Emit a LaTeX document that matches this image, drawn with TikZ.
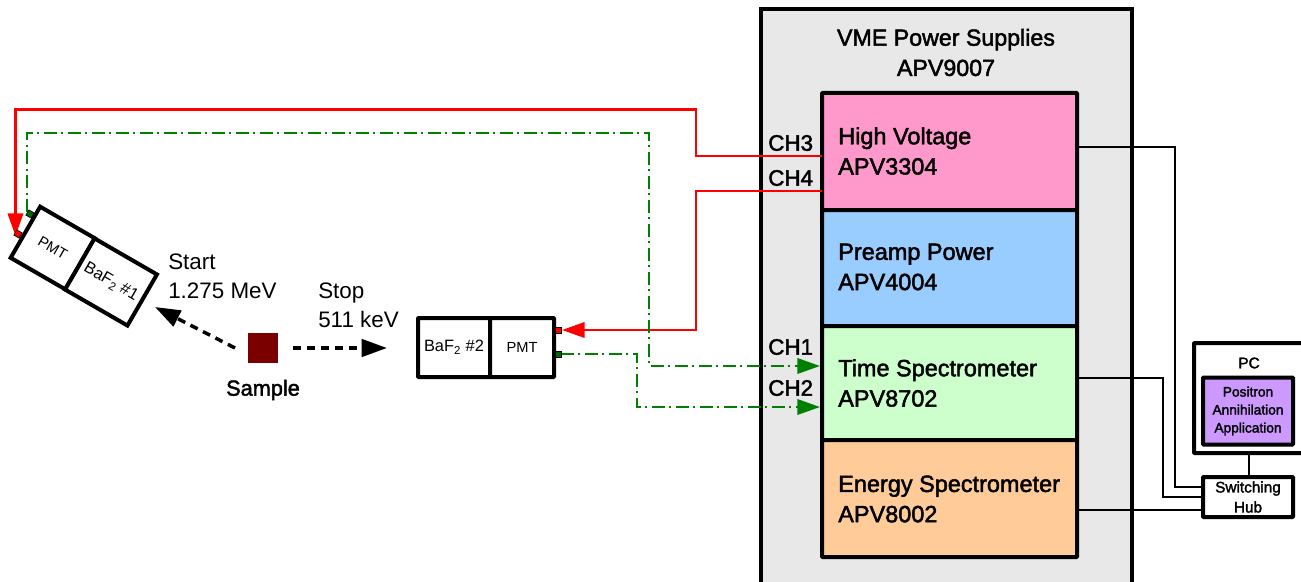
\documentclass[tikz,border=0pt]{standalone}
\usepackage{fontspec}
\setmainfont{Liberation Sans}
\newfontfamily\medfont[FakeBold=2]{Liberation Sans}
\usetikzlibrary{arrows.meta}
\definecolor{panelgrey}{HTML}{E8E8E8}
\definecolor{hvpink}{HTML}{FF99CC}
\definecolor{ppblue}{HTML}{99CCFF}
\definecolor{tsgreen}{HTML}{CCFFCC}
\definecolor{esorange}{HTML}{FFCC99}
\definecolor{apppurple}{HTML}{CC99FF}
\definecolor{samplered}{HTML}{7A0000}
\definecolor{siggreen}{HTML}{008000}
\definecolor{portgreen}{HTML}{006600}
\tikzset{
  x=0.75pt,y=-0.75pt,
  panel/.style={draw=black,line width=3.4pt,fill=panelgrey,minimum width=371*0.75pt,minimum height=580*0.75pt,inner sep=0pt,outer sep=0pt},
  module/.style={draw=black,line width=3pt,minimum width=255*0.75pt,inner sep=0pt,outer sep=0pt,rounded corners=0.5pt},
  modtext/.style={font=\fontsize{17.6pt}{22.7pt}\selectfont\medfont,align=left,anchor=west,inner sep=0pt},
  det/.style={draw=black,line width=3pt,fill=white,minimum height=59*0.75pt,inner sep=0pt,outer sep=0pt},
  pmtfont/.style={font=\fontsize{11pt}{12pt}\selectfont},
  baffont/.style={font=\fontsize{12.3pt}{14pt}\selectfont},
  port/.style={draw=black,line width=0.5pt,minimum width=6*0.75pt,minimum height=6*0.75pt,inner sep=0pt,outer sep=0pt},
  plain/.style={font=\fontsize{16.8pt}{21.75pt}\selectfont,inner sep=0pt},
  chlabel/.style={font=\fontsize{16.8pt}{18pt}\selectfont\medfont,inner sep=0pt,anchor=west},
  wire/.style={draw=black,line width=1.7pt},
  hvline/.style={draw=red,line width=2pt},
  sigline/.style={draw=siggreen,line width=1.8pt,dash pattern=on 9.5pt off 3.5pt on 1.5pt off 3.5pt},
  redhead/.style={-{Triangle[length=17pt,width=11.5pt,fill=red]}},
  greenhead/.style={-{Triangle[length=17pt,width=11.5pt,fill=siggreen]}},
  gamma/.style={draw=black,line width=2.6pt,dash pattern=on 6pt off 4.5pt,-{Triangle[length=19pt,width=13pt,fill=black]}},
}
\begin{document}
\begin{tikzpicture}
\path[use as bounding box,clip] (0,0) rectangle (1301,581);
% panel and stack
\node[panel] (vme) at (946.5,299) {};
\node[module,fill=hvpink,minimum height=117*0.75pt] (hv) at (949.5,151.5) {};
\node[module,fill=ppblue,minimum height=116*0.75pt] (pp) at (949.5,268) {};
\node[module,fill=tsgreen,minimum height=114*0.75pt] (ts) at (949.5,383) {};
\node[module,fill=esorange,minimum height=117*0.75pt] (es) at (949.5,498.5) {};
\node[font=\fontsize{17.4pt}{22.7pt}\selectfont\medfont,align=center,inner sep=0pt] (title) at (946,52.5) {VME Power Supplies\\APV9007};
\node[modtext] (hvt) at (838,151) {High Voltage\\APV3304};
\node[modtext] (ppt) at (838,267) {Preamp Power\\APV4004};
\node[modtext] (tst) at (838,383) {Time Spectrometer\\APV8702};
\node[modtext] (est) at (838,499) {Energy Spectrometer\\APV8002};
\node[chlabel] (ch3) at (768,143) {CH3};
\node[chlabel] (ch4) at (768,178) {CH4};
\node[chlabel] (ch1) at (768,347) {CH1};
\node[chlabel] (ch2) at (768,388) {CH2};
% PC and hub
\node[draw=black,line width=3pt,fill=white,minimum width=120*0.75pt,minimum height=110*0.75pt,inner sep=0pt,outer sep=0pt,rounded corners=0.5pt] (pc) at (1254,398) {};
\node[draw=black,line width=3pt,fill=apppurple,minimum width=90*0.75pt,minimum height=67*0.75pt,inner sep=0pt,outer sep=0pt,rounded corners=0.5pt,font=\fontsize{10.3pt}{13.5pt}\selectfont\medfont,align=center] (app) at (1248,411) {Positron\\Annihilation\\Application};
\node[font=\fontsize{11.5pt}{13pt}\selectfont\medfont,inner sep=0pt] (pclabel) at (1249,363) {PC};
\node[draw=black,line width=3pt,fill=white,minimum width=90*0.75pt,minimum height=40*0.75pt,inner sep=0pt,outer sep=0pt,rounded corners=0.5pt,font=\fontsize{11.5pt}{15pt}\selectfont\medfont,align=center] (hub) at (1248,497) {Switching\\Hub};
% named wire ends
\coordinate (hvout) at (1077,147);
\coordinate (tsout) at (1077,378);
\coordinate (esout) at (1077,510);
\coordinate (hubin1) at (1203,487);
\coordinate (hubin2) at (1203,497);
\coordinate (hubin3) at (1203,510);
\coordinate (hvch3) at (822,156);
\coordinate (hvch4) at (822,191);
\coordinate (tsch1) at (820,366);
\coordinate (tsch2) at (820,407);
\coordinate (pctop) at (1249,453);
\coordinate (hubtop) at (1249,477);
\draw[wire] (hvout) -- (1175,147) -- (1175,487) -- (hubin1);
\draw[wire] (tsout) -- (1163,378) -- (1163,497) -- (hubin2);
\draw[wire] (esout) -- (hubin3);
\draw[wire] (pctop) -- (hubtop);
% detector 2
\node[det,baffont,minimum width=72*0.75pt,rounded corners=0.5pt] (baf2) at (454,347.5) {BaF\textsubscript{2} \#2};
\node[det,pmtfont,minimum width=64*0.75pt,rounded corners=0.5pt] (pmt2) at (522,347.5) {PMT};
% detector 1
\node[det,pmtfont,minimum width=63*0.75pt,rotate=-30] (pmt1) at (52.7,248) {PMT};
\node[det,baffont,minimum width=72*0.75pt,rotate=-30] (baf1) at (111,282) {BaF\textsubscript{2} \#1};
\coordinate (redonetip) at (15.5,236);
\coordinate (grnonetop) at (27,212);
\coordinate (redtwotip) at (562,330);
\coordinate (grntwoout) at (561,354);
% high voltage cables
\draw[hvline,redhead] (hvch3) -- (696,156) -- (696,109.5) -- (15.5,109.5) -- (redonetip);
\draw[hvline,redhead] (hvch4) -- (696,191) -- (696,330) -- (redtwotip);
% signal cables
\draw[sigline,greenhead] (grnonetop) -- (27,133) -- (649,133) -- (649,366) -- (tsch1);
\draw[sigline,greenhead] (grntwoout) -- (637,354) -- (637,407) -- (tsch2);
% ports, over the cable ends
\node[port,fill=red,anchor=west] (red2) at (555.5,330) {};
\node[port,fill=portgreen,anchor=west] (grn2) at (555.5,354) {};
\node[port,fill=red,rotate=-30] (red1) at (18,234) {};
\node[port,fill=portgreen,rotate=-30] (grn1) at (30,214) {};
% sample and gammas
\node[fill=samplered,minimum width=30*0.75pt,minimum height=30*0.75pt,inner sep=0pt,outer sep=0pt] (sample) at (263,348) {};
\node[font=\fontsize{16.3pt}{18pt}\selectfont\medfont,inner sep=0pt] (samplelabel) at (263,390) {Sample};
\coordinate (gstart) at (235,348);
\coordinate (gstop) at (293,348);
\coordinate (tipstart) at (155,307);
\coordinate (tipstop) at (387,348);
\draw[gamma] (gstart) -- (tipstart);
\draw[gamma] (gstop) -- (tipstop);
\node[plain,align=left,anchor=west] (startlabel) at (168,276.5) {Start\\1.275 MeV};
\node[plain,align=left,anchor=west] (stoplabel) at (318,305.5) {Stop\\511 keV};
\end{tikzpicture}
\end{document}
